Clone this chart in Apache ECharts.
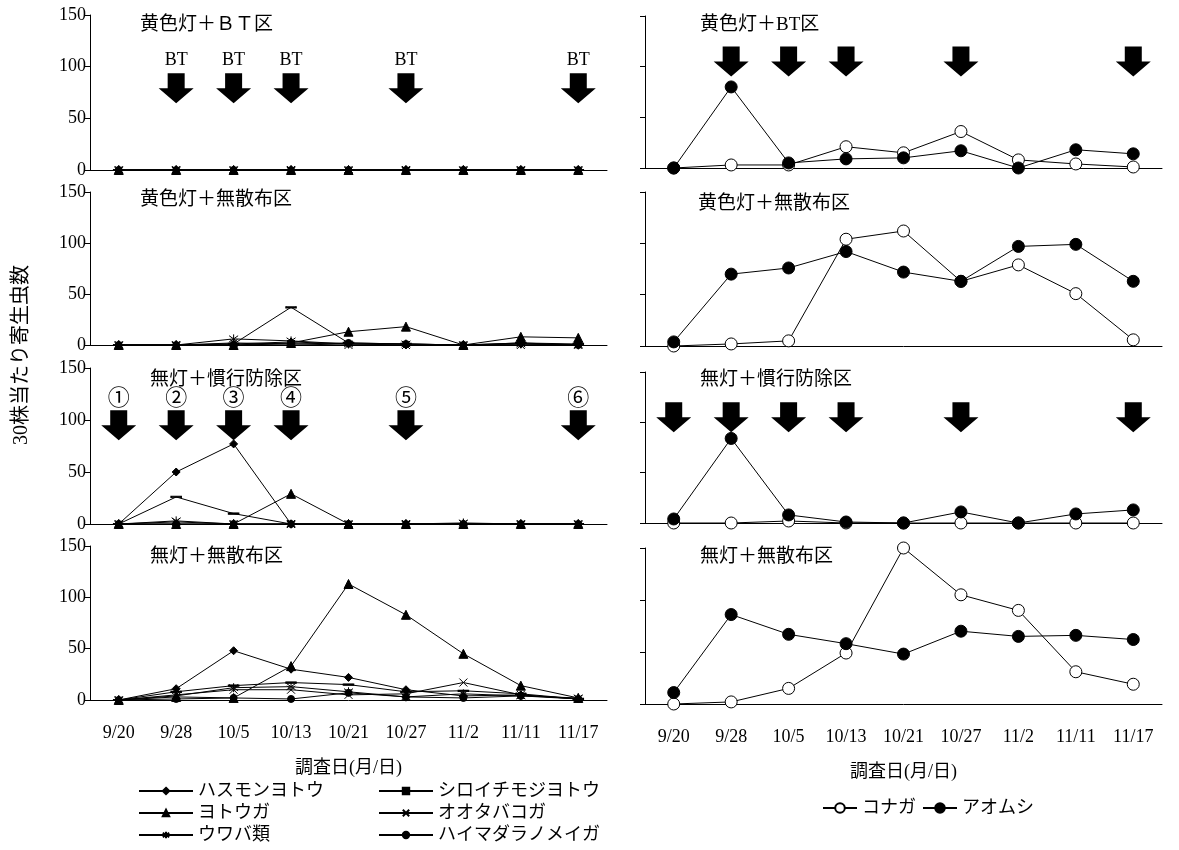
<!DOCTYPE html>
<html>
<head>
<meta charset="utf-8">
<script src="https://cdn.jsdelivr.net/npm/echarts@6/dist/echarts.min.js"></script>
<style>
  html, body { margin: 0; padding: 0; background: #fff; }
  #chart { width: 1179px; height: 850px; }
</style>
</head>
<body>
<div id="chart"></div>
<script>
// Survey dates (month/day)
const categories = ['9/20', '9/28', '10/5', '10/13', '10/21', '10/27', '11/2', '11/11', '11/17'];

// Lepidoptera other than diamondback moth / cabbage worm (left column)
const leftSpecies = ['ハスモンヨトウ', 'シロイチモジヨトウ', 'ヨトウガ', 'オオタバコガ', 'ウワバ類', 'ハイマダラノメイガ'];

// 黄色灯＋ＢＴ区
const yellowBtLeft = {
  'ハスモンヨトウ':     [0, 0, 0, 0, 0, 0, 0, 0, 0],
  'シロイチモジヨトウ': [0, 0, 0, 0, 0, 0, 0, 0, 0],
  'ヨトウガ':           [0, 0, 0, 0, 0, 0, 0, 0, 0],
  'オオタバコガ':       [0, 0, 0, 0, 0, 0, 0, 0, 0],
  'ウワバ類':           [0, 0, 0, 0, 0, 0, 0, 0, 0],
  'ハイマダラノメイガ': [0, 0, 0, 0, 0, 0, 0, 0, 0]
};
// 黄色灯＋無散布区
const yellowNoSprayLeft = {
  'ハスモンヨトウ':     [0, 0, 1, 3, 1, 0, 0, 1, 0],
  'シロイチモジヨトウ': [0, 0, 1, 37, 2, 1, 0, 2, 1],
  'ヨトウガ':           [0, 0, 0, 2, 13, 18, 0, 8, 7],
  'オオタバコガ':       [0, 0, 2, 1, 0, 0, 0, 0, 0],
  'ウワバ類':           [0, 0, 6, 4, 1, 1, 0, 1, 0],
  'ハイマダラノメイガ': [0, 0, 0, 1, 2, 1, 0, 2, 0]
};
// 無灯＋慣行防除区
const noLightConvLeft = {
  'ハスモンヨトウ':     [0, 50, 77, 0, 0, 0, 0, 0, 0],
  'シロイチモジヨトウ': [0, 26, 10, 0, 0, 0, 0, 0, 0],
  'ヨトウガ':           [0, 0, 0, 29, 0, 0, 0, 0, 0],
  'オオタバコガ':       [0, 2, 0, 0, 0, 0, 0, 0, 0],
  'ウワバ類':           [0, 3, 0, 0, 0, 0, 1, 0, 0],
  'ハイマダラノメイガ': [0, 0, 0, 0, 0, 0, 0, 0, 0]
};
// 無灯＋無散布区
const noLightNoSprayLeft = {
  'ハスモンヨトウ':     [0, 11, 48, 30, 22, 10, 4, 5, 1],
  'シロイチモジヨトウ': [0, 8, 14, 17, 15, 8, 9, 6, 1],
  'ヨトウガ':           [0, 3, 2, 33, 113, 83, 45, 14, 2],
  'オオタバコガ':       [0, 5, 10, 10, 5, 6, 17, 5, 1],
  'ウワバ類':           [0, 4, 12, 13, 8, 3, 6, 4, 2],
  'ハイマダラノメイガ': [0, 1, 2, 1, 7, 3, 2, 4, 1]
};

// Diamondback moth and cabbage worm (right column)
const rightSpecies = ['コナガ', 'アオムシ'];
const yellowBtRight = {
  'コナガ':   [0, 3, 3, 21, 15, 36, 8, 4, 1],
  'アオムシ': [0, 80, 5, 9, 10, 17, 0, 18, 14]
};
const yellowNoSprayRight = {
  'コナガ':   [0, 2, 5, 104, 112, 63, 79, 51, 6],
  'アオムシ': [4, 70, 76, 92, 72, 63, 97, 99, 63]
};
const noLightConvRight = {
  'コナガ':   [0, 0, 2, 0, 0, 0, 0, 0, 0],
  'アオムシ': [4, 84, 8, 1, 0, 11, 0, 9, 13]
};
const noLightNoSprayRight = {
  'コナガ':   [0, 2, 15, 49, 150, 105, 90, 31, 19],
  'アオムシ': [11, 86, 67, 58, 48, 70, 65, 66, 62]
};

// Spray dates
const btSprayDates = ['9/28', '10/5', '10/13', '10/27', '11/17'];
const convSprayDates = ['9/20', '9/28', '10/5', '10/13', '10/27', '11/17'];
const convSprayMarks = ['①', '②', '③', '④', '⑤', '⑥'];

const leftTitles = ['黄色灯＋ＢＴ区', '黄色灯＋無散布区', '無灯＋慣行防除区', '無灯＋無散布区'];
const rightTitles = ['黄色灯＋BT区', '黄色灯＋無散布区', '無灯＋慣行防除区', '無灯＋無散布区'];
const yTicks = [0, 50, 100, 150];

// ---------- styling / layout ----------
const FONT = "'Liberation Serif', 'Noto Sans CJK JP', serif";
const CJK = "'Noto Sans CJK JP', serif";
const leftData = [yellowBtLeft, yellowNoSprayLeft, noLightConvLeft, noLightNoSprayLeft];
const rightData = [yellowBtRight, yellowNoSprayRight, noLightConvRight, noLightNoSprayRight];

const leftRows = [[15, 170], [192, 345], [368, 524], [546, 700]];
const rightRows = [[16, 168], [192, 346], [372, 523], [548, 704]];

const markerStyles = {
  'ハスモンヨトウ':     { symbol: 'diamond', symbolSize: 8 },
  'シロイチモジヨトウ': { symbol: 'path://M0,0H10V4H0Z', symbolSize: [10, 4] },
  'ヨトウガ':           { symbol: 'triangle', symbolSize: 9 },
  'オオタバコガ':       { symbol: 'path://M0,0L10,10M10,0L0,10', symbolSize: 8 },
  'ウワバ類':           { symbol: 'path://M5,0L5,10M0,1.5L10,8.5M10,1.5L0,8.5', symbolSize: 9 },
  'ハイマダラノメイガ': { symbol: 'circle', symbolSize: 7 },
  'コナガ':             { symbol: 'circle', symbolSize: 12, fill: '#fff' },
  'アオムシ':           { symbol: 'circle', symbolSize: 12, fill: '#000' }
};

const ARROW = 'path://M9,0H26V15H35L17.5,30L0,15H9Z';

const grids = [], xAxes = [], yAxes = [], series = [], graphics = [];

function addPanel(side, row, rect, dataObj, names) {
  const idx = grids.length;
  const gx = side === 'left' ? 90 : 645;
  grids.push({ left: gx, width: 517, top: rect[0], height: rect[1] - rect[0] });
  const bottom = row === 3;
  xAxes.push({
    gridIndex: idx, type: 'category', data: categories, boundaryGap: true,
    axisLine: { lineStyle: { color: '#000', width: 1 } },
    axisTick: { inside: true, length: 5, lineStyle: { color: '#000' } },
    axisLabel: { show: bottom, color: '#000', fontSize: 18, fontFamily: FONT, margin: 24 },
    name: bottom ? '調査日(月/日)' : '', nameLocation: 'middle', nameGap: 59,
    nameTextStyle: { color: '#000', fontSize: 18, fontFamily: FONT },
    splitLine: { show: false }
  });
  yAxes.push({
    gridIndex: idx, type: 'value', min: yTicks[0], max: yTicks[yTicks.length - 1], interval: 50,
    axisLine: { show: true, lineStyle: { color: '#000', width: 1 } },
    axisTick: { show: true, inside: false, length: 5, lineStyle: { color: '#000' } },
    axisLabel: { show: side === 'left', color: '#000', fontSize: 18, fontFamily: FONT, margin: 4 },
    splitLine: { show: false }
  });
  names.forEach(n => {
    const m = markerStyles[n];
    series.push({
      type: 'line', name: n, xAxisIndex: idx, yAxisIndex: idx,
      data: dataObj[n], symbol: m.symbol, symbolSize: m.symbolSize, showSymbol: true,
      symbolKeepAspect: true,
      lineStyle: { color: '#000', width: 1 },
      itemStyle: { color: m.fill || '#000', borderColor: '#000', borderWidth: 1, opacity: 1 },
      emphasis: { disabled: true }, animation: false, z: 3
    });
  });
  return idx;
}

function addArrows(idx, dates, level, labels) {
  const isBT = labels && labels[0] === 'BT';
  series.push({
    type: 'scatter', name: 'spray', xAxisIndex: idx, yAxisIndex: idx,
    data: dates.map((d, i) => ({ value: [d, level], labelText: labels ? labels[i] : '' })),
    symbol: ARROW, symbolSize: [35, 30],
    itemStyle: { color: '#000', opacity: 1 },
    label: {
      show: !!labels, position: 'top', distance: isBT ? 4 : 3, color: '#000',
      fontSize: isBT ? 18 : 22, fontFamily: isBT ? FONT : CJK,
      formatter: p => p.data.labelText
    },
    emphasis: { disabled: true }, animation: false, z: 4, silent: true
  });
}

for (let r = 0; r < 4; r++) {
  const li = addPanel('left', r, leftRows[r], leftData[r], leftSpecies);
  const ri = addPanel('right', r, rightRows[r], rightData[r], rightSpecies);
  if (r === 0) {
    addArrows(li, btSprayDates, 79, btSprayDates.map(() => 'BT'));
    addArrows(ri, btSprayDates, 105, null);
  }
  if (r === 2) {
    addArrows(li, convSprayDates, 95, convSprayMarks);
    addArrows(ri, convSprayDates, 105, null);
  }
}

// panel titles
const leftTitlePos = [[140, 25], [140, 200], [150, 380], [150, 557]];
const rightTitlePos = [[700, 25], [698, 204], [700, 380], [700, 557]];
for (let r = 0; r < 4; r++) {
  graphics.push({ type: 'text', x: leftTitlePos[r][0], y: leftTitlePos[r][1],
    style: { text: leftTitles[r], fill: '#000', fontSize: 19, fontFamily: FONT, verticalAlign: 'middle' } });
  graphics.push({ type: 'text', x: rightTitlePos[r][0], y: rightTitlePos[r][1],
    style: { text: rightTitles[r], fill: '#000', fontSize: 19, fontFamily: FONT, verticalAlign: 'middle' } });
}
// shared y-axis title
graphics.push({ type: 'text', x: 22, y: 355, rotation: Math.PI / 2,
  style: { text: '30株当たり寄生虫数', fill: '#000', fontSize: 20, fontFamily: FONT, align: 'center', verticalAlign: 'middle' } });

// legends: one entry each so the two columns line up
const legendText = { color: '#000', fontSize: 18, fontFamily: FONT };
const legendSlots = [
  [leftSpecies[0], 138, 793], [leftSpecies[1], 378, 793],
  [leftSpecies[2], 138, 815], [leftSpecies[3], 378, 815],
  [leftSpecies[4], 138, 837], [leftSpecies[5], 378, 837]
];
const legends = legendSlots.map(([name, x, cy]) => ({
  data: [name], left: x, top: cy - 11, itemWidth: 54, itemHeight: 8, padding: 0,
  selectedMode: false, textStyle: legendText
}));
legends.push({
  data: rightSpecies, orient: 'horizontal', left: 822, top: 799, padding: 0,
  itemWidth: 34, itemHeight: 12, itemGap: 6, selectedMode: false, textStyle: legendText
});

const option = {
  backgroundColor: '#fff',
  animation: false,
  grid: grids, xAxis: xAxes, yAxis: yAxes, series: series,
  graphic: graphics,
  legend: legends
};

const chart = echarts.init(document.getElementById('chart'), null, { renderer: 'canvas' });
chart.setOption(option);
</script>
</body>
</html>
